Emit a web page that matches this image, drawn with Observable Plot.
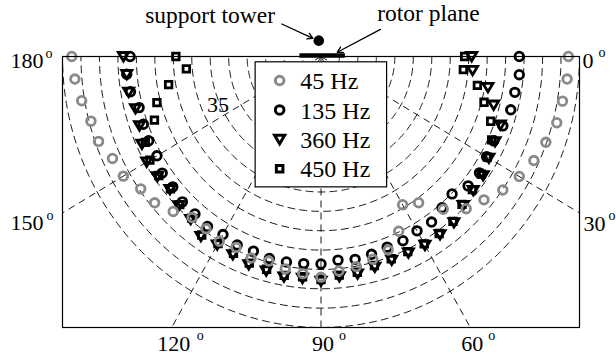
<!DOCTYPE html>
<html><head><meta charset="utf-8">
<script src="https://cdn.jsdelivr.net/npm/d3@7"></script>
<script src="https://cdn.jsdelivr.net/npm/@observablehq/plot@0.6"></script>
<style>html,body{margin:0;padding:0;background:#fff} #chart svg{display:block} #chart svg text{font-family:"Liberation Serif","Times New Roman",serif !important}</style>
</head><body><div id="chart"></div>
<script>
// ---- data ----
const angles = [0,5,10,15,20,25,30,35,40,45,50,55,60,65,70,75,80,85,90,95,100,105,110,115,120,125,130,135,140,145,150,155,160,165,170,175,180];
const hz45  = [67.0,66.9,66.4,66.1,64.8,63.6,62.0,60.1,57.6,55.6,51.5,46.1,44.2,49.8,53.2,54.2,55.1,55.6,57.0,56.3,55.7,54.7,55.4,54.4,55.1,54.3,54.3,56.6,58.8,59.6,61.8,62.3,64.1,64.5,65.8,66.9,67.5];
const hz135 = [53.7,53.9,53.3,53.2,52.4,51.6,51.8,52.4,52.0,50.2,51.0,52.2,52.0,52.5,52.4,52.9,53.2,52.8,53.6,53.7,53.9,54.0,53.5,53.7,53.1,53.6,53.1,53.1,52.4,52.5,51.3,51.5,51.2,51.0,52.4,52.8,51.7];
const hz360 = [40.8,41.2,45.9,48.4,51.7,52.0,52.5,53.6,53.8,54.4,56.0,56.2,56.3,56.0,56.0,56.3,57.0,57.1,58.0,57.5,57.8,57.3,57.2,56.5,56.2,56.7,54.9,54.5,53.4,54.1,54.5,53.5,52.3,52.0,52.9,52.8,53.5];
const hz450 = [38.9,38.7,43.0,45.7,48.9,51.0,52.0,53.0,53.5,54.0,55.6,55.8,55.9,55.6,55.6,55.9,56.6,56.7,57.6,57.1,57.4,56.9,56.8,56.1,55.8,56.3,54.5,54.1,53.2,53.6,53.5,52.5,48.0,46.0,41.9,36.6,39.3];
const seriesNames = ["45 Hz","135 Hz","360 Hz","450 Hz"];
const ringValues = [5,10,15,20,25,30,35,40,45,50,55,60,65,70];
const ringLabelValue = 35;
const ringLabelAngle = 157;
const spokeAngles = [30,60,90,120,150];
const tickAngles = [0,30,60,90,120,150,180];
const tickLabels = ["0","30","60","90","120","150","180"];
const rMax = 70;

// ---- geometry helpers ----
const rad = Math.PI / 180;
const polar = (a, r) => ({x: r * Math.cos(a * rad), y: r * Math.sin(a * rad)});
const pts = vals => angles.map((a, i) => ({angle: a, value: vals[i], ...polar(a, vals[i])}));

const ringPts = [];
for (const v of ringValues) for (let t = 0; t <= 180; t += 1) ringPts.push({ring: v, ...polar(t, v)});

const spokes = spokeAngles.map(a => {
  const c = Math.abs(Math.cos(a * rad)), s = Math.abs(Math.sin(a * rad));
  const rEnd = Math.min(c > 1e-9 ? rMax / c : Infinity, s > 1e-9 ? rMax / s : Infinity);
  const e = polar(a, rEnd);
  return {x1: 0, y1: 0, x2: e.x, y2: e.y};
});

// tick label anchor points where the spokes meet the frame
const ticks = tickAngles.map((a, i) => {
  const c = Math.cos(a * rad), s = Math.sin(a * rad);
  let x, y, side;
  if (Math.abs(c) >= 0.999) { x = Math.sign(c) * rMax; y = 0; side = c > 0 ? "right0" : "left0"; }
  else if (Math.abs(c) > Math.abs(s) * 0.9) { x = Math.sign(c) * rMax; y = rMax * Math.abs(s / c); side = c > 0 ? "right" : "left"; }
  else { y = rMax; x = rMax * c / s; side = "bottom"; }
  return {angle: a, label: tickLabels[i], x, y, side};
});

// down-pointing triangle symbol
const triangleDown = {
  draw(ctx, size) {
    const r = Math.sqrt(size / Math.PI);
    const a = 1.2 * r, b = 0.95 * r, c = 1.05 * r;
    ctx.moveTo(-a, -b); ctx.lineTo(a, -b); ctx.lineTo(0, c); ctx.closePath();
  }
};

const gray = "#8a8a8a";
const styles = [
  {symbol: "circle", stroke: gray, r: 4.3},
  {symbol: "circle", stroke: "black", r: 4.3},
  {symbol: triangleDown, stroke: "black", r: 4.2},
  {symbol: "square", stroke: "black", r: 3.7}
];

// legend layout (data units of the plot)
const legendBox = {x1: -17.7, x2: 17.9, y1: 1.5, y2: 33.8};
const legendRows = seriesNames.map((name, i) => ({name, i, y: 6.2 + i * 7.6}));

// annotations above the frame
const towerDot = [{x: -0.6, y: -4.1}];
const rotorBar = [{x1: -5.7, x2: 6.6, y: -0.25}];
const annArrows = [
  {x1: -10.6, y1: -8.4, x2: -2.2, y2: -4.7},
  {x1: 16.1, y1: -7.0, x2: 4.4, y2: -1.1}
];
const annTexts = [
  {text: "support tower", x: -47.6, y: -8.6},
  {text: "rotor plane", x: 15.2, y: -9.1}
];

const font = "'Liberation Serif', 'Times New Roman', serif";
const fs = 22;

const tickMarks = [];
function tickText(filter, opts) {
  tickMarks.push(Plot.text(ticks.filter(filter), {x: "x", y: "y", text: "label", fontSize: fs, fontFamily: font, fill: "black", ...opts}));
}
function tickO(filter, opts) {
  tickMarks.push(Plot.text(ticks.filter(filter), {x: "x", y: "y", text: () => "o", fontSize: 14, fontFamily: font, fill: "black", ...opts}));
}
tickText(d => d.side === "left0", {textAnchor: "end", dx: -19, dy: 4.5});
tickO(d => d.side === "left0", {textAnchor: "start", dx: -17, dy: -3});
tickText(d => d.side === "left", {textAnchor: "end", dx: -19, dy: 10});
tickO(d => d.side === "left", {textAnchor: "start", dx: -16, dy: 2.5});
tickText(d => d.side === "right0", {textAnchor: "start", dx: 3, dy: 4});
tickO(d => d.side === "right0", {textAnchor: "start", dx: 19, dy: -3.5});
tickText(d => d.side === "right", {textAnchor: "start", dx: 4, dy: 10.5});
tickO(d => d.side === "right", {textAnchor: "start", dx: 29, dy: 2.5});
tickText(d => d.side === "bottom", {textAnchor: "middle", dx: 2, dy: 16});
tickO(d => d.side === "bottom" && d.label.length === 3, {textAnchor: "start", dx: 25, dy: 8});
tickO(d => d.side === "bottom" && d.label.length === 2, {textAnchor: "start", dx: 18, dy: 8});

const allSeries = [hz45, hz135, hz360, hz450];
const seriesMarks = [3, 2, 1, 0].map(k => Plot.dot(pts(allSeries[k]), {
  x: "x", y: "y", r: styles[k].r, symbol: styles[k].symbol,
  stroke: styles[k].stroke, strokeWidth: 2.8, fill: "none"
}));

const chart = Plot.plot({
  width: 616, height: 354,
  marginLeft: 62, marginRight: 37, marginTop: 56, marginBottom: 27,
  x: {domain: [-rMax, rMax], axis: null},
  y: {domain: [0, rMax], reverse: true, axis: null},
  style: {fontFamily: font, background: "white", overflow: "visible", color: "black"},
  marks: [
    Plot.line(ringPts, {x: "x", y: "y", z: "ring", stroke: "black", strokeWidth: 0.9, strokeDasharray: "7,5"}),
    Plot.link(spokes, {x1: "x1", y1: "y1", x2: "x2", y2: "y2", stroke: "black", strokeWidth: 0.9, strokeDasharray: "7,5"}),
    Plot.text([{v: ringLabelValue, ...polar(ringLabelAngle, ringLabelValue)}], {x: "x", y: "y", text: d => String(d.v), fontSize: fs, fontFamily: font, textAnchor: "start", lineAnchor: "bottom", dx: 5, dy: 3, fill: "black"}),
    ...seriesMarks,
    Plot.frame({stroke: "black", strokeWidth: 1.2}),
    // legend
    Plot.rect([legendBox], {x1: "x1", x2: "x2", y1: "y1", y2: "y2", fill: "white", stroke: "black", strokeWidth: 1.2}),
    ...[0, 1, 2, 3].map(k => Plot.dot([legendRows[k]], {x: () => -11.2, y: "y", r: styles[k].r, symbol: styles[k].symbol, stroke: styles[k].stroke, strokeWidth: 3, fill: "none"})),
    Plot.text(legendRows, {x: () => -5.6, y: "y", text: "name", fontSize: 24, fontFamily: font, textAnchor: "start", fill: "black", dy: 1}),
    // annotations
    Plot.ruleY(rotorBar, {y: "y", x1: "x1", x2: "x2", stroke: "black", strokeWidth: 4.5}),
    Plot.dot(towerDot, {x: "x", y: "y", r: 5.3, fill: "black"}),
    Plot.arrow(annArrows, {x1: "x1", y1: "y1", x2: "x2", y2: "y2", stroke: "black", strokeWidth: 1.3, headLength: 7}),
    Plot.text(annTexts, {x: "x", y: "y", text: "text", fontSize: 23.5, fontFamily: font, textAnchor: "start", lineAnchor: "bottom", fill: "black"}),
    ...tickMarks
  ]
});
document.getElementById("chart").appendChild(chart);
</script>
</body></html>
